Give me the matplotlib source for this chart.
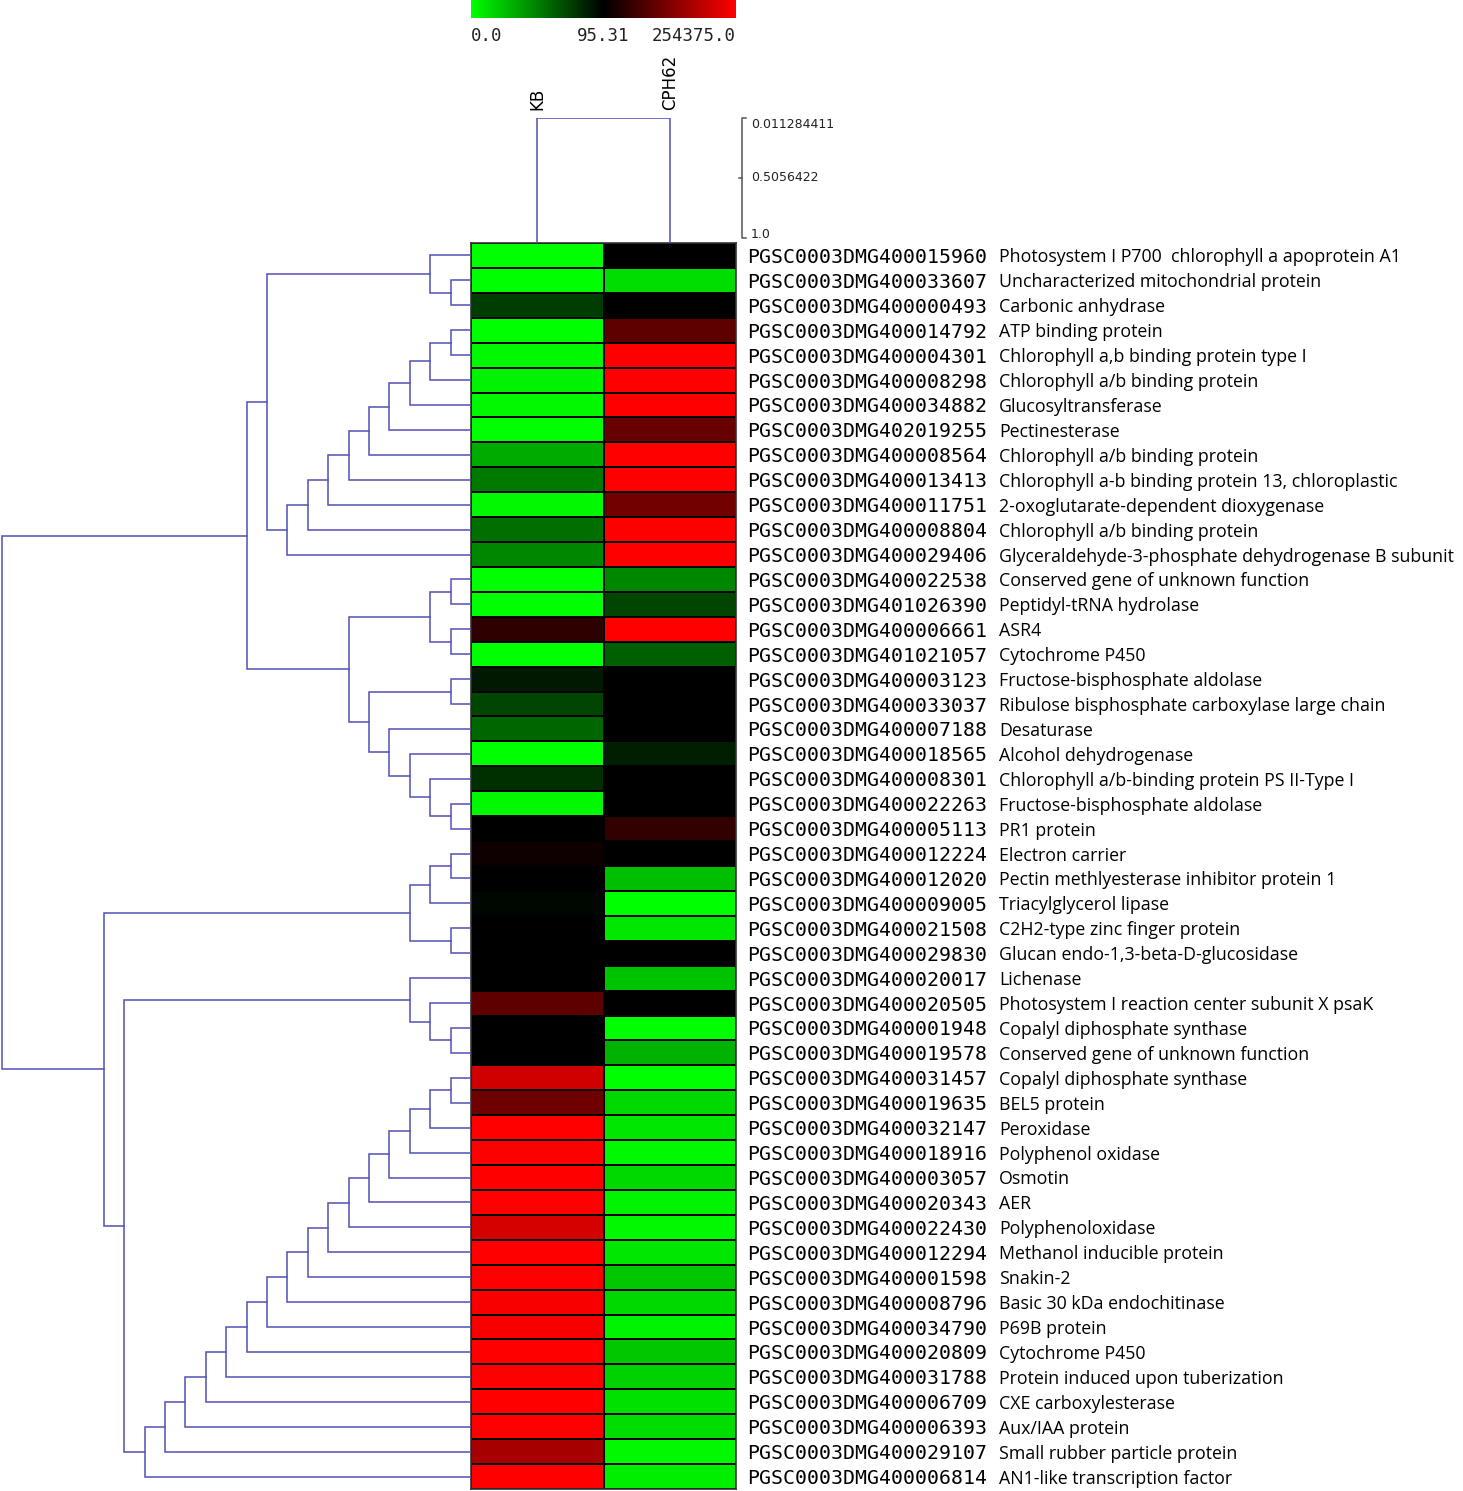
import matplotlib
matplotlib.use("Agg")
import matplotlib.pyplot as plt
import numpy as np
from matplotlib import font_manager
from matplotlib.colors import LinearSegmentedColormap, Normalize
from matplotlib.transforms import blended_transform_factory


# ------------------------------------------------------------
# Data
# ------------------------------------------------------------

samples = ["KB", "CPH62"]

gene_ids = [
    "PGSC0003DMG400015960", "PGSC0003DMG400033607", "PGSC0003DMG400000493",
    "PGSC0003DMG400014792", "PGSC0003DMG400004301", "PGSC0003DMG400008298",
    "PGSC0003DMG400034882", "PGSC0003DMG402019255", "PGSC0003DMG400008564",
    "PGSC0003DMG400013413", "PGSC0003DMG400011751", "PGSC0003DMG400008804",
    "PGSC0003DMG400029406", "PGSC0003DMG400022538", "PGSC0003DMG401026390",
    "PGSC0003DMG400006661", "PGSC0003DMG401021057", "PGSC0003DMG400003123",
    "PGSC0003DMG400033037", "PGSC0003DMG400007188", "PGSC0003DMG400018565",
    "PGSC0003DMG400008301", "PGSC0003DMG400022263", "PGSC0003DMG400005113",
    "PGSC0003DMG400012224", "PGSC0003DMG400012020", "PGSC0003DMG400009005",
    "PGSC0003DMG400021508", "PGSC0003DMG400029830", "PGSC0003DMG400020017",
    "PGSC0003DMG400020505", "PGSC0003DMG400001948", "PGSC0003DMG400019578",
    "PGSC0003DMG400031457", "PGSC0003DMG400019635", "PGSC0003DMG400032147",
    "PGSC0003DMG400018916", "PGSC0003DMG400003057", "PGSC0003DMG400020343",
    "PGSC0003DMG400022430", "PGSC0003DMG400012294", "PGSC0003DMG400001598",
    "PGSC0003DMG400008796", "PGSC0003DMG400034790", "PGSC0003DMG400020809",
    "PGSC0003DMG400031788", "PGSC0003DMG400006709", "PGSC0003DMG400006393",
    "PGSC0003DMG400029107", "PGSC0003DMG400006814",
]

descriptions = [
    "Photosystem I P700  chlorophyll a apoprotein A1",
    "Uncharacterized mitochondrial protein",
    "Carbonic anhydrase",
    "ATP binding protein",
    "Chlorophyll a,b binding protein type I",
    "Chlorophyll a/b binding protein",
    "Glucosyltransferase",
    "Pectinesterase",
    "Chlorophyll a/b binding protein",
    "Chlorophyll a-b binding protein 13, chloroplastic",
    "2-oxoglutarate-dependent dioxygenase",
    "Chlorophyll a/b binding protein",
    "Glyceraldehyde-3-phosphate dehydrogenase B subunit",
    "Conserved gene of unknown function",
    "Peptidyl-tRNA hydrolase",
    "ASR4",
    "Cytochrome P450",
    "Fructose-bisphosphate aldolase",
    "Ribulose bisphosphate carboxylase large chain",
    "Desaturase",
    "Alcohol dehydrogenase",
    "Chlorophyll a/b-binding protein PS II-Type I",
    "Fructose-bisphosphate aldolase",
    "PR1 protein",
    "Electron carrier",
    "Pectin methlyesterase inhibitor protein 1",
    "Triacylglycerol lipase",
    "C2H2-type zinc finger protein",
    "Glucan endo-1,3-beta-D-glucosidase",
    "Lichenase",
    "Photosystem I reaction center subunit X psaK",
    "Copalyl diphosphate synthase",
    "Conserved gene of unknown function",
    "Copalyl diphosphate synthase",
    "BEL5 protein",
    "Peroxidase",
    "Polyphenol oxidase",
    "Osmotin",
    "AER",
    "Polyphenoloxidase",
    "Methanol inducible protein",
    "Snakin-2",
    "Basic 30 kDa endochitinase",
    "P69B protein",
    "Cytochrome P450",
    "Protein induced upon tuberization",
    "CXE carboxylesterase",
    "Aux/IAA protein",
    "Small rubber particle protein",
    "AN1-like transcription factor",
]

# scaled expression, -1 = green, 0 = black, 1 = red
kb_values = [
    -1.00, -1.00, -0.24, -1.00, -0.97, -0.95, -0.97, -1.00, -0.67, -0.47,
    -0.97, -0.43, -0.53, -1.00, -1.00, 0.18, -1.00, -0.10, -0.27, -0.40,
    -1.00, -0.18, -0.97, 0.00, 0.06, 0.00, -0.03, 0.00, 0.00, 0.00,
    0.37, 0.00, 0.00, 0.82, 0.43, 1.00, 1.00, 1.00, 1.00, 0.83,
    1.00, 1.00, 0.97, 0.97, 1.00, 1.00, 1.00, 1.00, 0.65, 1.00,
]
cph62_values = [
    0.00, -0.86, 0.00, 0.37, 1.00, 1.00, 1.00, 0.40, 1.00, 1.00,
    0.45, 1.00, 1.00, -0.53, -0.27, 1.00, -0.37, 0.00, 0.00, 0.00,
    -0.12, 0.00, 0.00, 0.20, 0.00, -0.75, -1.00, -0.90, 0.00, -0.76,
    0.00, -1.00, -0.70, -1.00, -0.85, -0.90, -0.97, -0.85, -0.95, -0.97,
    -0.90, -0.78, -0.85, -0.95, -0.78, -0.82, -0.88, -0.86, -0.97, -0.93,
]

# row clustering: (left, right, height); ids >= 50 are earlier merges
row_merges = [
    (1, 2, 1), (0, 50, 2),
    (3, 4, 1), (52, 5, 2), (53, 6, 3), (54, 7, 4), (55, 8, 5), (56, 9, 6),
    (57, 10, 7), (58, 11, 8), (59, 12, 9),
    (51, 60, 10),
    (13, 14, 1), (15, 16, 1), (62, 63, 2),
    (17, 18, 1), (22, 23, 1), (21, 66, 2), (20, 67, 3), (19, 68, 4),
    (65, 69, 5), (64, 70, 6),
    (61, 71, 11),
    (24, 25, 1), (73, 26, 2), (27, 28, 1), (74, 75, 3),
    (31, 32, 1), (30, 77, 2), (29, 78, 3),
    (33, 34, 1), (80, 35, 2), (81, 36, 3), (82, 37, 4), (83, 38, 5),
    (84, 39, 6), (85, 40, 7), (86, 41, 8), (87, 42, 9), (88, 43, 10),
    (89, 44, 11), (90, 45, 12), (91, 46, 13), (92, 47, 14), (93, 48, 15),
    (94, 49, 16),
    (79, 95, 17), (76, 96, 18),
    (72, 97, 23),
]

col_merge_height = 0.011284411
scale_ticks = [0.011284411, 0.5056422, 1.0]
scale_labels = ["0.011284411", "0.5056422", "1.0"]

cbar_labels = ["0.0", "95.31", "254375.0"]


# ------------------------------------------------------------
# Helpers
# ------------------------------------------------------------

W, H = 1463, 1491
TREE_COLOR = "#5656b8"


def px_rect(x0, y0, x1, y1):
    return [x0 / W, 1 - y1 / H, (x1 - x0) / W, (y1 - y0) / H]


def pick_font(names):
    for name in names:
        try:
            font_manager.findfont(font_manager.FontProperties(family=name),
                                  fallback_to_default=False)
            return name
        except Exception:
            pass
    return "DejaVu Sans"


desc_font = pick_font(["Liberation Sans Narrow", "Open Sans", "Lato"])

heat = np.array([kb_values, cph62_values]).T
n_rows = heat.shape[0]

cmap = LinearSegmentedColormap.from_list("gbr", ["#00ff00", "#000000", "#ff0000"])
norm = Normalize(-1, 1)


# ------------------------------------------------------------
# Figure
# ------------------------------------------------------------

fig = plt.figure(figsize=(W / 100, H / 100), dpi=100)

# heatmap
ax_heat = fig.add_axes(px_rect(471, 243, 736, 1489))
ax_heat.pcolormesh(np.arange(3), np.arange(n_rows + 1), heat, cmap=cmap,
                   norm=norm, edgecolors="black", linewidth=1.3)
ax_heat.set_xlim(0, 2)
ax_heat.set_ylim(n_rows, 0)
ax_heat.set_xticks([])
ax_heat.set_yticks([])
for sp in ax_heat.spines.values():
    sp.set_color("#333333")
    sp.set_linewidth(1.2)

# row labels
tr = blended_transform_factory(fig.transFigure, ax_heat.transData)
for i, (gid, desc) in enumerate(zip(gene_ids, descriptions)):
    ax_heat.text(747 / W, i + 0.5, gid, transform=tr, ha="left",
                 va="center_baseline", family="DejaVu Sans Mono",
                 fontsize=14.3, clip_on=False)
    ax_heat.text(999 / W, i + 0.5, desc, transform=tr, ha="left",
                 va="center_baseline", family=desc_font, fontsize=12.8,
                 clip_on=False)

# row dendrogram
ax_rd = fig.add_axes(px_rect(0, 243, 471, 1489))
pos = {i: i + 0.5 for i in range(n_rows)}
hgt = {i: 0.0 for i in range(n_rows)}
for k, (a, b, h) in enumerate(row_merges):
    ax_rd.plot([hgt[a], h, h, hgt[b]], [pos[a], pos[a], pos[b], pos[b]],
               color=TREE_COLOR, lw=1.15, solid_joinstyle="miter")
    pos[n_rows + k] = (pos[a] + pos[b]) / 2
    hgt[n_rows + k] = h
ax_rd.set_xlim(471 / 20.4, 0)
ax_rd.set_ylim(n_rows, 0)
ax_rd.axis("off")

# column dendrogram
y_top = scale_ticks[0]
y_bot = y_top + (243 - 118) * (1.0 - y_top) / 120
ax_cd = fig.add_axes(px_rect(471, 118, 736, 243))
ax_cd.plot([0.5, 0.5, 1.5, 1.5], [y_bot, col_merge_height, col_merge_height, y_bot],
           color=TREE_COLOR, lw=1.15)
ax_cd.set_xlim(0, 2)
ax_cd.set_ylim(y_bot, y_top)
ax_cd.axis("off")
for j, name in enumerate(samples):
    ax_cd.text(j + 0.5, y_top - 8 * (1.0 - y_top) / 120, name, rotation=90,
               ha="center", va="bottom", fontsize=12, clip_on=False)

# distance scale
ax_sc = fig.add_axes(px_rect(742, 118, 760, 243))
ax_sc.set_xlim(0, 18)
ax_sc.set_ylim(y_bot, y_top)
ax_sc.plot([4, 0, 0, 4], [scale_ticks[0], scale_ticks[0], scale_ticks[-1], scale_ticks[-1]],
           color="#555555", lw=1.1, clip_on=False)
ax_sc.plot([0, -3], [scale_ticks[1], scale_ticks[1]], color="#555555", lw=1.1, clip_on=False)
for val, lab, va in zip(scale_ticks, scale_labels, ["top", "center", "baseline"]):
    ax_sc.text(9, val, lab, ha="left", va=va, fontsize=9, color="#222222",
               clip_on=False)
ax_sc.axis("off")

# colour bar
ax_cb = fig.add_axes(px_rect(471, 0, 736, 18))
ax_cb.imshow(np.linspace(-1, 1, 256)[None, :], cmap=cmap, norm=norm,
             aspect="auto", extent=[0, 1, 0, 1])
ax_cb.set_xticks([])
ax_cb.set_yticks([])
for sp in ax_cb.spines.values():
    sp.set_visible(False)
for xf, lab, ha in zip([0.0, 0.5, 1.0], cbar_labels, ["left", "center", "right"]):
    fig.text((471 + xf * 265) / W, 1 - 36 / H, lab, ha=ha, va="center",
             family="DejaVu Sans Mono", fontsize=12.5, color="#222222")

fig.savefig("out.png", dpi=100)
